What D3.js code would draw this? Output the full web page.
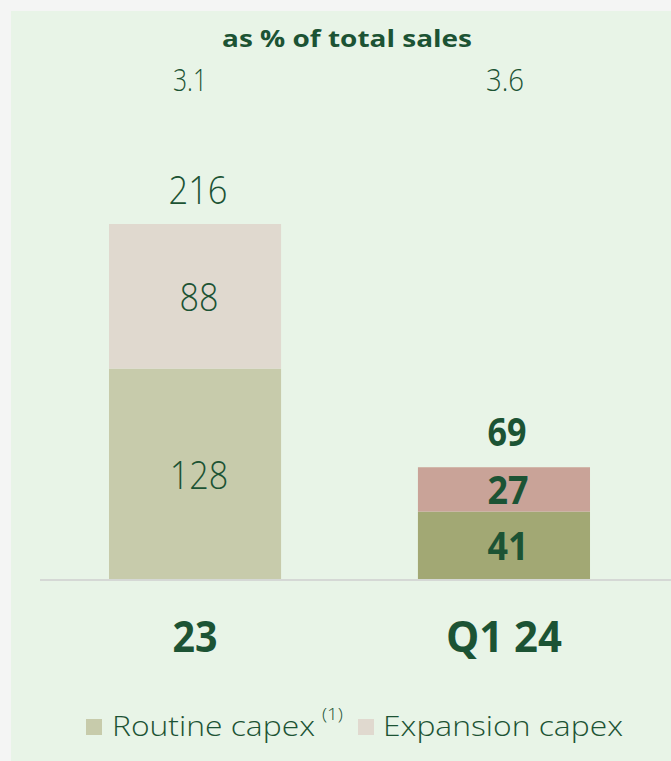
<!DOCTYPE html>
<html>
<head>
<meta charset="utf-8">
<script src="https://cdn.jsdelivr.net/npm/d3@7"></script>
<style>
  html, body { margin: 0; padding: 0; background: #f4f5f4; }
  svg { display: block; }
  text { font-family: "Open Sans", "DejaVu Sans", sans-serif; fill: #1c5334; }
</style>
</head>
<body>
<svg id="chart" width="671" height="761"></svg>
<script>
// Capex by period, split into routine and expansion spend
const periods = ["23", "Q1 24"];
const routine = [128, 41];
const expansion = [88, 27];
const totals = [216, 69];
const pctOfSales = ["3.1", "3.6"];
const seriesNames = ["Routine capex", "Expansion capex"];

// Fill colours per period (the latest period is highlighted)
const fills = {
  "23":    { routine: "#c7cbab", expansion: "#e0d9cf" },
  "Q1 24": { routine: "#a2a874", expansion: "#c9a398" }
};

const svg = d3.select("#chart");
const W = 671, H = 761;

// Panel
svg.append("rect").attr("x", 11).attr("y", 11).attr("width", W - 11).attr("height", H - 11)
  .attr("fill", "#e8f4e7");

const baseline = 579;
const x = d3.scaleBand().domain(periods).range([40, 659]).paddingInner(0.443).paddingOuter(0.2233);
const y = d3.scaleLinear().domain([0, 216]).range([baseline, 224]);
const cx = p => x(p) + x.bandwidth() / 2;

// Text helper: centred label, fitted to a given width
function label(sel, str, xc, yb, size, weight, width) {
  const t = sel.append("text")
    .attr("x", xc).attr("y", yb)
    .attr("text-anchor", "middle")
    .attr("font-size", size)
    .attr("font-weight", weight)
    .text(str);
  if (width) t.attr("textLength", width).attr("lengthAdjust", "spacingAndGlyphs");
  return t;
}

const data = periods.map((p, i) => ({ period: p, routine: routine[i], expansion: expansion[i] }));
const layers = d3.stack().keys(["routine", "expansion"])(data);

const g = svg.append("g");
layers.forEach(layer => {
  g.selectAll(null).data(layer).enter().append("rect")
    .attr("x", d => x(d.data.period))
    .attr("width", x.bandwidth())
    .attr("y", d => y(d[1]))
    .attr("height", d => y(d[0]) - y(d[1]))
    .attr("fill", d => fills[d.data.period][layer.key]);
});

// Baseline
svg.append("line").attr("x1", 40).attr("x2", W).attr("y1", baseline + 1).attr("y2", baseline + 1)
  .attr("stroke", "#d5d8d5").attr("stroke-width", 2);

// Segment value labels
layers.forEach(layer => {
  layer.forEach(d => {
    const bold = d.data.period === "Q1 24";
    const v = d.data[layer.key];
    const mid = (y(d[0]) + y(d[1])) / 2;
    label(g, v, cx(d.data.period) + 4, mid + 15, 39, bold ? 700 : 300,
      String(v).length * (bold ? 20.5 : 19.5));
  });
});

// Totals above bars
periods.forEach((p, i) => {
  const bold = p === "Q1 24";
  label(svg, totals[i], cx(p) + 3, y(totals[i]) - 20, 39, bold ? 700 : 300,
    String(totals[i]).length * (bold ? 19.5 : 19.7));
});

// Category axis labels
const xAxis = d3.axisBottom(x).tickSize(0).tickPadding(0);
const ax = svg.append("g").attr("transform", `translate(0, ${baseline})`).call(xAxis);
ax.select(".domain").remove();
ax.selectAll("text")
  .attr("y", 73).attr("dy", null)
  .attr("font-size", 43).attr("font-weight", 700)
  .attr("textLength", d => d === "23" ? 45 : 116)
  .attr("lengthAdjust", "spacingAndGlyphs")
  .style("font-family", '"Open Sans", "DejaVu Sans", sans-serif')
  .style("fill", "#1c5334");

// Header: share of sales
label(svg, "as % of total sales", 347, 47, 23, 700, 250);
periods.forEach((p, i) => {
  label(svg, pctOfSales[i], i === 0 ? 190 : 505, 91, 31, 300, i === 0 ? 34 : 38);
});

// Legend
const legend = svg.append("g");
legend.append("rect").attr("x", 86).attr("y", 719).attr("width", 16).attr("height", 16).attr("fill", fills["23"].routine);
legend.append("text").attr("x", 112).attr("y", 736).attr("font-size", 28).attr("font-weight", 300)
  .attr("textLength", 203).attr("lengthAdjust", "spacingAndGlyphs").text(seriesNames[0]);
legend.append("text").attr("x", 322).attr("y", 720).attr("font-size", 17).attr("font-weight", 300)
  .attr("textLength", 21).attr("lengthAdjust", "spacingAndGlyphs").text("(1)");
legend.append("rect").attr("x", 358).attr("y", 719).attr("width", 16).attr("height", 16).attr("fill", fills["23"].expansion);
legend.append("text").attr("x", 383).attr("y", 736).attr("font-size", 28).attr("font-weight", 300)
  .attr("textLength", 240).attr("lengthAdjust", "spacingAndGlyphs").text(seriesNames[1]);
</script>
</body>
</html>
